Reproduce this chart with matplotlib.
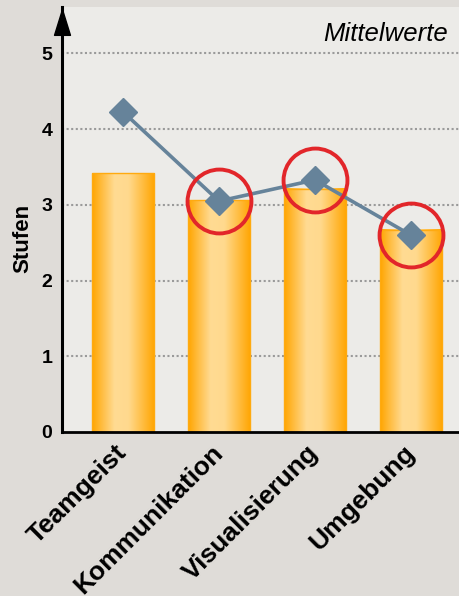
import matplotlib
matplotlib.use('Agg')
import matplotlib.pyplot as plt
import numpy as np
from matplotlib.colors import LinearSegmentedColormap
from matplotlib.path import Path

plt.rcParams['font.family'] = ['Liberation Sans', 'DejaVu Sans']

# Daten
categories = ['Teamgeist', 'Kommunikation', 'Visualisierung', 'Umgebung']
bar_values = [3.42, 3.06, 3.21, 2.67]
mean_values = [4.23, 3.05, 3.33, 2.60]
highlighted = [False, True, True, True]
y_ticks = [0, 1, 2, 3, 4, 5]

W, H = 460, 596
fig = plt.figure(figsize=(W / 100, H / 100), dpi=100, facecolor='#dfdcd8')
# Achse: links 62px, unten 432px, oben 7px
ax = fig.add_axes([62 / W, (H - 432) / H, (W - 62) / W, (432 - 7) / H])
ax.set_facecolor('#ecebe8')

x = np.arange(len(categories))
bar_w = 0.646

# Farbverlauf der Balken
cmap = LinearSegmentedColormap.from_list(
    'bar', [(0.0, '#ffa500'), (0.36, '#ffdb93'), (0.58, '#ffd98e'), (1.0, '#ffa500')])
grad = np.linspace(0, 1, 256).reshape(1, -1)
for xi, h in zip(x, bar_values):
    ax.imshow(grad, cmap=cmap, aspect='auto', interpolation='bicubic',
              extent=[xi - bar_w / 2, xi + bar_w / 2, 0, h], zorder=2)
    ax.add_patch(plt.Rectangle((xi - bar_w / 2, 0), bar_w, h, fill=False,
                               edgecolor='#ffaa10', lw=1, zorder=2.1))

# Linie mit Rauten
ax.plot(x, mean_values, color='#66839a', lw=2.6, marker='D', ms=14.5,
        zorder=3)

# rote Kreise
for xi, v, hl in zip(x, mean_values, highlighted):
    if hl:
        ax.plot(xi, v, marker='o', ms=46, mfc='none', mec='#e2262a',
                mew=2.8, zorder=4)

ax.set_xlim(-0.635, 3.51)
ax.set_ylim(0, 5.614)

# Gitter
for t in y_ticks[1:]:
    ax.axhline(t, color='#9a9a9a', lw=1.5, ls=(0, (1, 1.2)), zorder=1)

ax.set_yticks(y_ticks)
ax.set_yticklabels([str(t) for t in y_ticks], fontsize=14, fontweight='bold')
ax.set_xticks(x)
ax.set_xticklabels(categories, fontsize=19, fontweight='bold', rotation=45,
                   ha='right', va='center', rotation_mode='anchor')
ax.tick_params(axis='y', length=0, pad=7)
ax.tick_params(axis='x', length=0, pad=12)

for s in ['top', 'right']:
    ax.spines[s].set_visible(False)
ax.spines['left'].set_linewidth(2.2)
ax.spines['bottom'].set_linewidth(2.0)

# Pfeilspitze der y-Achse
arrow = Path([(-0.62, -1), (0.62, -1), (0, 1), (-0.62, -1)],
             [Path.MOVETO, Path.LINETO, Path.LINETO, Path.CLOSEPOLY])
ax.plot(-0.635, 5.42, marker=arrow, ms=18.5, color='black', clip_on=False,
        zorder=5)

fig.text(23 / W, 1 - 238 / H, 'Stufen', rotation=90, ha='center',
         va='center', fontsize=16, fontweight='bold')
fig.text(448 / W, 1 - 40.7 / H, 'Mittelwerte', ha='right', va='baseline',
         fontsize=18.5, style='italic')

fig.savefig('out.png', dpi=100, facecolor=fig.get_facecolor())
